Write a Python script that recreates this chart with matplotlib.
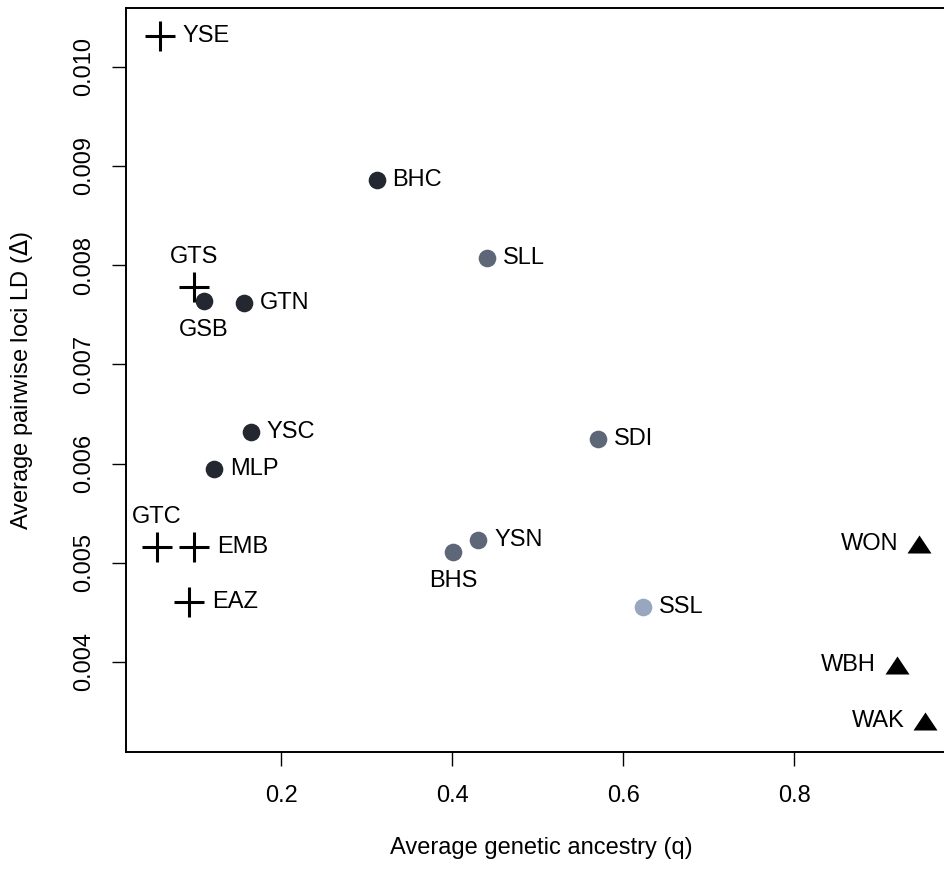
import matplotlib
matplotlib.use('Agg')
import matplotlib.pyplot as plt
from matplotlib.path import Path

plt.rcParams['font.family'] = ['Liberation Sans', 'DejaVu Sans']

# population codes, ancestry (q) and mean pairwise LD
POPS = ['YSE', 'BHC', 'SLL', 'GTS', 'GSB', 'GTN', 'YSC', 'MLP', 'SDI',
        'GTC', 'EMB', 'EAZ', 'YSN', 'BHS', 'SSL', 'WON', 'WBH', 'WAK']
Q = [0.0586, 0.3117, 0.4411, 0.0987, 0.1099, 0.1567, 0.1649, 0.1217, 0.5709,
     0.0547, 0.0987, 0.0925, 0.4303, 0.4014, 0.6228, 0.9461, 0.9197, 0.9530]
LD = [0.010309, 0.008858, 0.008075, 0.007782, 0.007638, 0.007621, 0.006318,
      0.005944, 0.006244, 0.005158, 0.005158, 0.004607, 0.005229, 0.005111,
      0.004556, 0.005192, 0.003967, 0.003404]
GROUP = ['cross', 'dark', 'mid', 'cross', 'dark', 'dark', 'dark', 'dark', 'mid',
         'cross', 'cross', 'cross', 'mid', 'mid', 'light', 'tri', 'tri', 'tri']
LABEL_POS = ['right', 'right', 'right', 'above', 'below', 'right', 'right',
             'right', 'right', 'above', 'right', 'right', 'right', 'below',
             'right', 'left', 'left', 'left']

X_TICKS = [0.2, 0.4, 0.6, 0.8]
Y_TICKS = [0.004, 0.005, 0.006, 0.007, 0.008, 0.009, 0.010]

# R-style filled triangle, a bit wider than tall
TRI = Path([(-1, -0.75), (1, -0.75), (0, 0.75), (-1, -0.75)],
           [Path.MOVETO, Path.LINETO, Path.LINETO, Path.CLOSEPOLY])

STYLE = {
    'dark':  dict(marker='o', color='#23272f', ms=12.7, mew=0),
    'mid':   dict(marker='o', color='#5d6778', ms=12.7, mew=0),
    'light': dict(marker='o', color='#98a7bf', ms=12.7, mew=0),
    'cross': dict(marker='+', color='black', ms=21, mew=2.2),
    'tri':   dict(marker=TRI, color='black', ms=17.3, mew=0),
}

# crosses are wider than the dots, so their right-hand labels sit further out
RIGHT_GAP = {'cross': 16.5, 'dark': 11.5, 'mid': 11.5, 'light': 11.5, 'tri': 11.5}


def label_offset(pos, group):
    if pos == 'right':
        return (RIGHT_GAP[group], 0), 'left'
    if pos == 'left':
        return (-15, 0), 'right'
    if pos == 'above':
        return (0, 21.5), 'center'
    return (0, -21), 'center'


fig = plt.figure(figsize=(9.44, 8.69), dpi=100)
ax = fig.add_axes([126 / 944, 117 / 869, 830 / 944, 744 / 869])

for name, x, y, g, pos in zip(POPS, Q, LD, GROUP, LABEL_POS):
    s = STYLE[g]
    ax.plot([x], [y], linestyle='none', marker=s['marker'], color=s['color'],
            markersize=s['ms'], markeredgewidth=s['mew'], clip_on=False)
    off, ha = label_offset(pos, g)
    ax.annotate(name, (x, y), xytext=off, textcoords='offset points',
                ha=ha, va='center', fontsize=17)

ax.set_xlim(0.0188, 0.989)
ax.set_ylim(0.003092, 0.010592)

ax.set_xticks(X_TICKS)
ax.set_xticklabels([f'{t:.1f}' for t in X_TICKS])
ax.set_yticks(Y_TICKS)
ax.set_yticklabels([f'{t:.3f}' for t in Y_TICKS])
plt.setp(ax.get_yticklabels(), rotation=90, ha='center', va='center')

ax.tick_params(axis='both', length=10, width=1, color='black',
               labelsize=17, direction='out')
ax.tick_params(axis='x', pad=14)
ax.tick_params(axis='y', pad=20)

for sp in ax.spines.values():
    sp.set_linewidth(1.4)
    sp.set_color('black')

ax.set_xlabel('Average genetic ancestry (q)', fontsize=17)
ax.set_ylabel('Average pairwise loci LD ($\\Delta$)', fontsize=17)
ax.xaxis.label.set_va('center')
ax.yaxis.label.set_va('center')
ax.xaxis.set_label_coords(0.5, -96 / 744)
ax.yaxis.set_label_coords(-104 / 830, 0.5)

fig.savefig('out.png', dpi=100)
